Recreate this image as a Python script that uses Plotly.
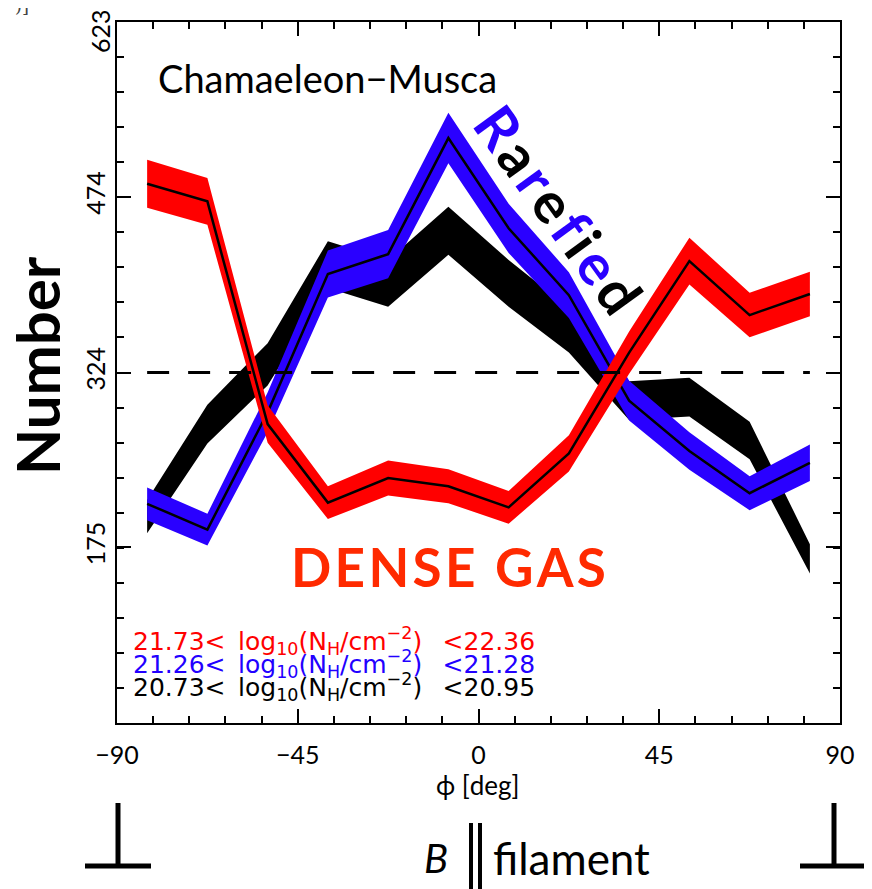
import plotly.graph_objects as go
import numpy as np

# ---------------- data ----------------
phi = [-82.5, -67.5, -52.5, -37.5, -22.5, -7.5, 7.5, 22.5, 37.5, 52.5, 67.5, 82.5]

dense_vals = [485, 470, 280, 213, 234, 227, 209, 255, 341, 419, 373, 391]
dense_err = [20.5, 20, 16, 14, 15, 14.5, 14, 15.5, 18, 20, 19, 19]

rare_vals = [212, 190, 290, 408, 425, 524, 447, 390, 300, 257, 221, 247]
rare_err = [14, 13.5, 17, 20, 20.5, 21.5, 21, 19.5, 17, 16, 14.5, 15.5]

low_vals = [201, 280, 331, 416, 400, 445, 400, 360, 300, 303, 266, 165]
low_err = [14.2, 16.5, 18, 20, 20, 20.5, 20, 19, 16.5, 16.5, 16, 12.5]

mean_level = 324

xtick_vals = [-90, -45, 0, 45, 90]
xtick_text = ["\u221290", "\u221245", "0", "45", "90"]
ytick_vals = [175, 324, 474, 623]
ytick_text = ["175", "324", "474", ""]
ytop_label = "623"

SP = "\u2002"  # en space
legend_lines = [
    ("21.73<" + SP + "log<sub>10</sub>(N<sub>H</sub>/cm<sup>\u22122</sup>)" + SP + " <22.36", "#ff0000"),
    ("21.26<" + SP + "log<sub>10</sub>(N<sub>H</sub>/cm<sup>\u22122</sup>)" + SP + " <21.28", "#2200ff"),
    ("20.73<" + SP + "log<sub>10</sub>(N<sub>H</sub>/cm<sup>\u22122</sup>)" + SP + " <20.95", "#000000"),
]

RED = "#ff0000"
BLUE = "#2a00ff"
BLACK = "#000000"

fig = go.Figure()


def band(x, v, e, color):
    up = [a + b for a, b in zip(v, e)]
    lo = [a - b for a, b in zip(v, e)]
    fig.add_trace(go.Scatter(
        x=list(x) + list(x)[::-1], y=up + lo[::-1],
        mode="lines", fill="toself", fillcolor=color,
        line=dict(color=color, width=0), hoverinfo="skip", showlegend=False))


band(phi, low_vals, low_err, BLACK)
band(phi, rare_vals, rare_err, BLUE)
fig.add_trace(go.Scatter(x=phi, y=rare_vals, mode="lines",
                         line=dict(color=BLACK, width=2.5), showlegend=False))
band(phi, dense_vals, dense_err, RED)
fig.add_trace(go.Scatter(x=phi, y=dense_vals, mode="lines",
                         line=dict(color=BLACK, width=2.5), showlegend=False))
fig.add_trace(go.Scatter(x=[phi[0], phi[-1]], y=[mean_level, mean_level], mode="lines",
                         line=dict(color=BLACK, width=3, dash="22px,19px"), showlegend=False))

FONT = "Lato"
TICKSIZE = 25

# page offset of the figure (body margin) and plot area in page pixels
OFF = 8
L, R, T, B = 117, 840, 22, 723
W, H = R - L, B - T
FIG_W, FIG_H = 872 - OFF, 889 - OFF


def px(x):
    return (x - L) / W


def py(y):
    return (B - y) / H


HS = "\u200a"  # hair space for letter spacing

ann = []
ann.append(dict(x=px(156), y=py(78), text="Chamaeleon\u2212Musca", xanchor="left", yanchor="middle",
                font=dict(family=FONT, size=38, color="black")))
rare_word = [("R", BLUE), ("a", BLACK), ("r", BLUE), ("e", BLACK), ("f", BLUE), ("i", BLACK), ("e", BLUE), ("d", BLACK)]
rare_txt = HS.join(f"<span style='color:{c}'>{ch}</span>" for ch, c in rare_word)
ann.append(dict(x=px(559), y=py(209), text="<b>" + rare_txt + "</b>", textangle=54,
                xanchor="center", yanchor="middle", font=dict(family=FONT, size=57, color="black")))
ann.append(dict(x=px(448), y=py(566), text="<b>" + HS.join("DENSE GAS") + "</b>", xanchor="center",
                yanchor="middle", font=dict(family=FONT, size=53, color="#ff2a00")))
for i, (t, c) in enumerate(legend_lines):
    ann.append(dict(x=px(131), y=py(641 + 23 * i), text=t, xanchor="left", yanchor="middle",
                    font=dict(family="DejaVu Sans", size=25, color=c)))
ann.append(dict(x=px(37), y=py(366), text="<b>Number</b>", textangle=-90, xanchor="center", yanchor="middle",
                font=dict(family=FONT, size=60, color="black")))
ann.append(dict(x=px(478), y=py(785), text="\u03d5 [deg]", xanchor="center", yanchor="middle",
                font=dict(family=FONT, size=26, color="black")))
ann.append(dict(x=px(436), y=py(858), text="<i>B</i>", xanchor="center", yanchor="middle",
                font=dict(family=FONT, size=40, color="black")))
ann.append(dict(x=px(491), y=py(858), text="filament", xanchor="left", yanchor="middle",
                font=dict(family=FONT, size=44, color="black")))
ann.append(dict(x=px(100), y=py(31), text=ytop_label, textangle=-90, xanchor="center", yanchor="middle",
                font=dict(family=FONT, size=TICKSIZE, color="black")))
ann.append(dict(x=px(22), y=py(6), text=")]", xanchor="center", yanchor="middle",
                font=dict(family="DejaVu Serif", size=18, color="#444")))
for a in ann:
    a.setdefault("xref", "paper")
    a.setdefault("yref", "paper")
    a.setdefault("showarrow", False)

shapes = []


def seg(x0, y0, x1, y1, w=5):
    shapes.append(dict(type="line", xref="paper", yref="paper", x0=px(x0), y0=py(y0), x1=px(x1), y1=py(y1),
                       line=dict(color="black", width=w)))


# perpendicular symbols
seg(118, 803, 118, 866)
seg(85, 866, 151, 866)
seg(834, 803, 834, 866)
seg(800, 866, 868, 866)
# parallel symbol
seg(471, 823, 471, 889, 4)
seg(480, 823, 480, 889, 4)

axis_common = dict(showgrid=False, zeroline=False, showline=True, linecolor="black", linewidth=2,
                   mirror="ticks", ticks="inside", ticklen=14, tickwidth=1.5, tickcolor="black",
                   tickfont=dict(family=FONT, size=TICKSIZE, color="black"))

fig.update_layout(
    width=FIG_W, height=FIG_H,
    margin=dict(l=L - OFF, r=FIG_W - (R - OFF), t=T - OFF, b=FIG_H - (B - OFF)),
    paper_bgcolor="white", plot_bgcolor="white",
    showlegend=False,
    xaxis=dict(range=[-90, 90], tickmode="array", tickvals=xtick_vals, ticktext=xtick_text,
               ticklabelstandoff=9,
               minor=dict(tickmode="linear", tick0=-90, dtick=9, ticks="inside", ticklen=7,
                          tickcolor="black", tickwidth=1.5),
               **axis_common),
    yaxis=dict(range=[25, 623], tickmode="array", tickvals=ytick_vals, ticktext=ytick_text,
               tickangle=-90,
               minor=dict(tickmode="array", tickvals=list(np.linspace(25, 623, 21)), ticks="inside",
                          ticklen=7, tickcolor="black", tickwidth=1.5),
               **axis_common),
    annotations=ann,
    shapes=shapes,
)

fig.write_html("out.html")
